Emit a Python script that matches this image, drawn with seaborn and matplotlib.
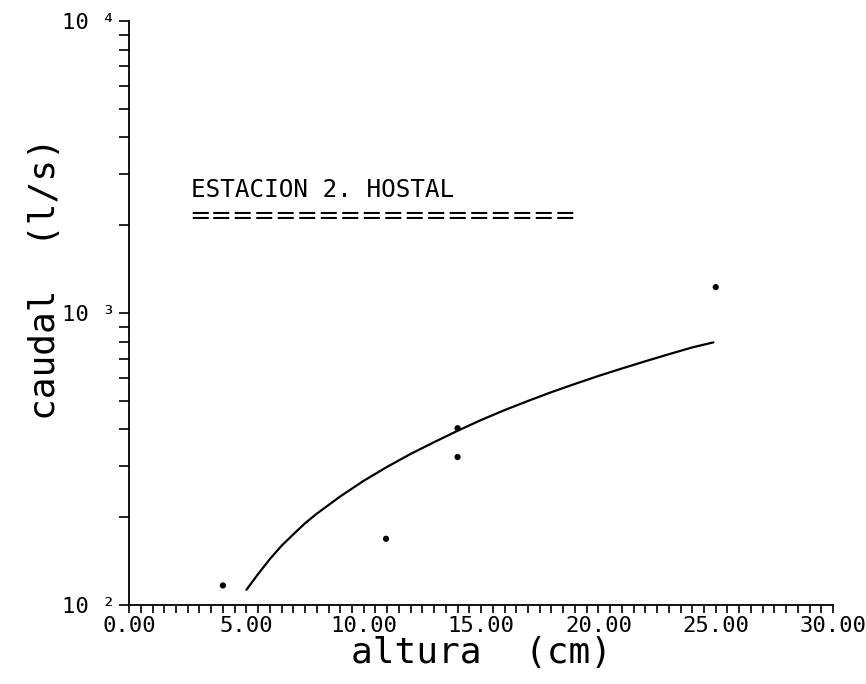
import numpy as np
import pandas as pd
import matplotlib
matplotlib.use('Agg')
import matplotlib.pyplot as plt
import matplotlib.ticker as mticker
import seaborn as sns

# Measured points (altura in cm, caudal in l/s)
altura_obs = [4.0, 10.95, 14.0, 14.0, 25.0]
caudal_obs = [117, 169, 404, 322, 1229]

# Fitted rating curve
altura_fit = [5, 5.5, 6, 6.5, 7, 7.5, 8, 9, 10, 11, 12, 13, 14, 15, 16, 17, 18, 19, 20,
              21, 22, 23, 24, 24.9]
caudal_fit = [113, 128, 144, 160, 175, 191, 206, 236, 267, 298, 330, 362, 396, 431, 466, 501,
              537, 573, 610, 647, 685, 724, 764, 795]

x_ticks = [0, 5, 10, 15, 20, 25, 30]
y_ticks = [100, 1000, 10000]
y_tick_labels = ['10 \u00b2', '10 \u00b3', '10 \u2074']

obs = pd.DataFrame({'altura': altura_obs, 'caudal': caudal_obs})
fit = pd.DataFrame({'altura': altura_fit, 'caudal': caudal_fit})

sns.set_style('ticks')
plt.rcParams['font.family'] = ['DejaVu Sans Mono', 'DejaVu Sans']
plt.rcParams['text.color'] = 'black'
plt.rcParams['axes.labelcolor'] = 'black'

fig = plt.figure(figsize=(8.66, 6.84), dpi=100)
ax = fig.add_axes([0.149, 0.115, 0.813, 0.854])

sns.lineplot(data=fit, x='altura', y='caudal', color='black', linewidth=1.6, ax=ax)
sns.scatterplot(data=obs, x='altura', y='caudal', color='black', s=20, edgecolor='none', ax=ax)

ax.set_yscale('log')
ax.set_xlim(0, 30)
ax.set_ylim(100, 10000)

ax.set_xticks(x_ticks)
ax.set_xticklabels([f'{v:.2f}' for v in x_ticks], fontsize=16)
ax.xaxis.set_minor_locator(mticker.MultipleLocator(0.5))

ax.set_yticks(y_ticks)
ax.set_yticklabels(y_tick_labels, fontsize=16)
ax.yaxis.set_minor_locator(mticker.LogLocator(base=10, subs=np.arange(2, 10)))
ax.yaxis.set_minor_formatter(mticker.NullFormatter())

ax.tick_params(axis='x', which='both', direction='out', length=6, width=1.2, pad=2, colors='black')
ax.tick_params(axis='y', which='both', direction='out', length=7, width=1.2, pad=3, colors='black')

for side in ['top', 'right']:
    ax.spines[side].set_visible(False)
for side in ['left', 'bottom']:
    ax.spines[side].set_linewidth(1.3)
    ax.spines[side].set_color('black')

ax.set_xlabel('altura  (cm)', fontsize=26, labelpad=0, color='black')
ax.set_ylabel('caudal  (l/s)', fontsize=26, color='black')
ax.yaxis.set_label_coords(-0.095, 0.56)

ax.text(0.088, 0.699, 'ESTACION 2. HOSTAL', transform=ax.transAxes, fontsize=17.5, color='black')
ax.text(0.086, 0.652, '=' * 18, transform=ax.transAxes, fontsize=18.4, color='black',
        family='DejaVu Sans')

fig.savefig('out.png', dpi=100)
